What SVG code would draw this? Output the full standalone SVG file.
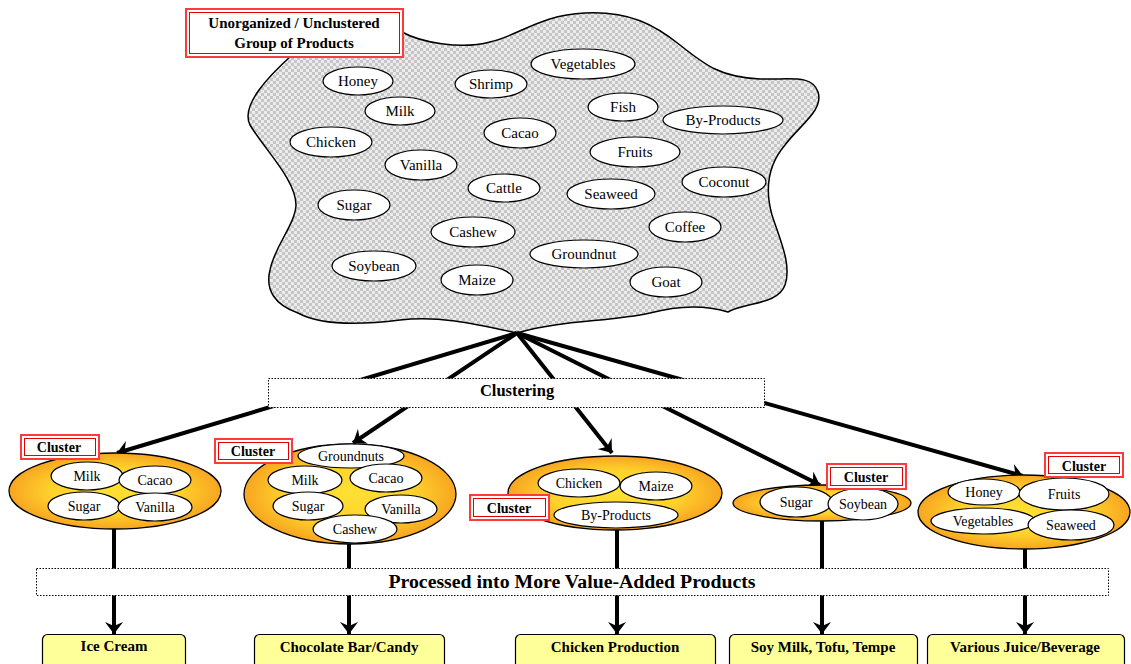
<svg xmlns="http://www.w3.org/2000/svg" width="1131" height="664" viewBox="0 0 1131 664">
  <defs>
    <pattern id="checker" width="6" height="6" patternUnits="userSpaceOnUse">
      <rect width="6" height="6" fill="#ececec"/>
      <rect width="3" height="3" fill="#c6c6c6"/>
      <rect x="3" y="3" width="3" height="3" fill="#c6c6c6"/>
    </pattern>
    <radialGradient id="orange" cx="50%" cy="50%" r="55%">
      <stop offset="0" stop-color="#ffe033"/>
      <stop offset="0.55" stop-color="#ffd22c"/>
      <stop offset="1" stop-color="#f59a1e"/>
    </radialGradient>
    <marker id="head" viewBox="0 0 12 18" refX="12" refY="9" markerWidth="12" markerHeight="18" markerUnits="userSpaceOnUse" orient="auto">
      <path d="M0,0 L12,9 L0,18 L4,9 Z" fill="#000"/>
    </marker>
    <style>
      .item { fill: #fff; stroke: #000; stroke-width: 1.2; }
      .t15 { font-family: "Liberation Serif", serif; font-size: 15px; text-anchor: middle; fill: #000; }
      .t14 { font-family: "Liberation Serif", serif; font-size: 14px; text-anchor: middle; fill: #000; }
      .bold { font-family: "Liberation Serif", serif; font-weight: bold; text-anchor: middle; fill: #000; }
      .clus { fill: url(#orange); stroke: #000; stroke-width: 1.3; }
      .redO { fill: #fff; stroke: #ff3a3a; stroke-width: 2; }
      .redI { fill: none; stroke: #e00000; stroke-width: 1; }
      .dotbox { fill: #fff; stroke: #000; stroke-width: 1; stroke-dasharray: 1.5 1.5; }
      .prod { fill: #ffff99; stroke: #000; stroke-width: 1.2; }
      .link { stroke: #000; stroke-width: 4; fill: none; }
    </style>
  </defs>

  <rect width="1131" height="664" fill="#fff"/>

  <!-- unorganized product pool -->
  <g id="pool">
    <path d="M 402,32 C 420,42 460,50 490,42 C 520,35 540,15 585,13 C 630,11 655,25 680,45 C 705,65 720,77 760,79 C 790,80 812,74 818,92 C 824,110 800,125 785,145 C 768,165 765,190 772,215 C 780,240 792,265 785,285 C 778,305 745,302 728,312 C 705,305 680,305 650,313 C 610,322 560,320 517,333 C 480,325 440,315 400,320 C 360,325 320,325 298,313 C 275,305 265,290 270,270 C 275,245 295,225 296,205 C 296,180 265,150 250,125 C 240,105 270,75 292,55 L 300,40 Z" fill="url(#checker)" stroke="#000" stroke-width="1.5"/>
    <g id="pool-items">
      <ellipse class="item" cx="358" cy="81" rx="35" ry="14"/><text class="t15" x="358" y="86">Honey</text>
      <ellipse class="item" cx="400" cy="111" rx="35" ry="14"/><text class="t15" x="400" y="116">Milk</text>
      <ellipse class="item" cx="331" cy="142" rx="41" ry="15"/><text class="t15" x="331" y="147">Chicken</text>
      <ellipse class="item" cx="421" cy="165" rx="36" ry="15"/><text class="t15" x="421" y="170">Vanilla</text>
      <ellipse class="item" cx="491" cy="84" rx="36" ry="14"/><text class="t15" x="491" y="89">Shrimp</text>
      <ellipse class="item" cx="520" cy="133" rx="36" ry="15"/><text class="t15" x="520" y="138">Cacao</text>
      <ellipse class="item" cx="504" cy="188" rx="36" ry="14"/><text class="t15" x="504" y="193">Cattle</text>
      <ellipse class="item" cx="583" cy="64" rx="52" ry="15"/><text class="t15" x="583" y="69">Vegetables</text>
      <ellipse class="item" cx="623" cy="107" rx="35" ry="14"/><text class="t15" x="623" y="112">Fish</text>
      <ellipse class="item" cx="723" cy="120" rx="60" ry="14"/><text class="t15" x="723" y="125">By-Products</text>
      <ellipse class="item" cx="635" cy="152" rx="45" ry="15"/><text class="t15" x="635" y="157">Fruits</text>
      <ellipse class="item" cx="724" cy="182" rx="42" ry="15"/><text class="t15" x="724" y="187">Coconut</text>
      <ellipse class="item" cx="611" cy="194" rx="44" ry="15"/><text class="t15" x="611" y="199">Seaweed</text>
      <ellipse class="item" cx="685" cy="227" rx="36" ry="15"/><text class="t15" x="685" y="232">Coffee</text>
      <ellipse class="item" cx="584" cy="254" rx="54" ry="14"/><text class="t15" x="584" y="259">Groundnut</text>
      <ellipse class="item" cx="666" cy="282" rx="36" ry="15"/><text class="t15" x="666" y="287">Goat</text>
      <ellipse class="item" cx="354" cy="205" rx="36" ry="15"/><text class="t15" x="354" y="210">Sugar</text>
      <ellipse class="item" cx="473" cy="232" rx="42" ry="15"/><text class="t15" x="473" y="237">Cashew</text>
      <ellipse class="item" cx="374" cy="266" rx="42" ry="15"/><text class="t15" x="374" y="271">Soybean</text>
      <ellipse class="item" cx="477" cy="280" rx="36" ry="15"/><text class="t15" x="477" y="285">Maize</text>
    </g>
  </g>

  <g id="pool-label">
    <rect class="redO" x="186" y="9" width="217" height="48"/>
    <rect class="redI" x="189.5" y="12.5" width="210" height="41"/>
    <text class="bold" x="294" y="28" font-size="15">Unorganized / Unclustered</text>
    <text class="bold" x="294" y="48" font-size="15">Group of Products</text>
  </g>

  <!-- connectors -->
  <g id="connectors">
    <line class="link" x1="517" y1="333" x2="117" y2="453" marker-end="url(#head)"/>
    <line class="link" x1="517" y1="333" x2="353" y2="443" marker-end="url(#head)"/>
    <line class="link" x1="517" y1="333" x2="612" y2="453" marker-end="url(#head)"/>
    <line class="link" x1="517" y1="333" x2="820" y2="485" marker-end="url(#head)"/>
    <line class="link" x1="517" y1="333" x2="1023" y2="476" marker-end="url(#head)"/>
    <line class="link" x1="114" y1="528" x2="114" y2="634" marker-end="url(#head)"/>
    <line class="link" x1="349" y1="543" x2="349" y2="634" marker-end="url(#head)"/>
    <line class="link" x1="617" y1="529" x2="617" y2="634" marker-end="url(#head)"/>
    <line class="link" x1="822" y1="521" x2="822" y2="634" marker-end="url(#head)"/>
    <line class="link" x1="1025" y1="548" x2="1025" y2="634" marker-end="url(#head)"/>
  </g>

  <g id="clustering">
    <rect class="dotbox" x="268.5" y="378.5" width="496" height="29"/>
    <text class="bold" x="517" y="396" font-size="16.5">Clustering</text>
  </g>

  <!-- cluster 1 -->
  <g id="cluster1">
    <ellipse class="clus" cx="115" cy="491" rx="106" ry="38"/>
    <ellipse class="item" cx="87" cy="476" rx="36" ry="14"/><text class="t14" x="87" y="481">Milk</text>
    <ellipse class="item" cx="155" cy="480" rx="36" ry="14"/><text class="t14" x="155" y="485">Cacao</text>
    <ellipse class="item" cx="84" cy="506" rx="36" ry="14"/><text class="t14" x="84" y="511">Sugar</text>
    <ellipse class="item" cx="155" cy="507" rx="37" ry="14"/><text class="t14" x="155" y="512">Vanilla</text>
    <rect class="redO" x="21" y="435" width="78" height="24"/>
    <rect class="redI" x="24.5" y="438.5" width="71" height="17"/>
    <text class="bold" x="59" y="452" font-size="14">Cluster</text>
  </g>

  <!-- cluster 2 -->
  <g id="cluster2">
    <ellipse class="clus" cx="350" cy="494" rx="106" ry="50"/>
    <ellipse class="item" cx="351" cy="456" rx="53" ry="12"/><text class="t14" x="351" y="461">Groundnuts</text>
    <ellipse class="item" cx="305" cy="480" rx="37" ry="14"/><text class="t14" x="305" y="485">Milk</text>
    <ellipse class="item" cx="386" cy="478" rx="36" ry="14"/><text class="t14" x="386" y="483">Cacao</text>
    <ellipse class="item" cx="308" cy="506" rx="35" ry="14"/><text class="t14" x="308" y="511">Sugar</text>
    <ellipse class="item" cx="401" cy="509" rx="36" ry="14"/><text class="t14" x="401" y="514">Vanilla</text>
    <ellipse class="item" cx="355" cy="529" rx="42" ry="14"/><text class="t14" x="355" y="534">Cashew</text>
    <rect class="redO" x="215" y="439" width="77" height="24"/>
    <rect class="redI" x="218.5" y="442.5" width="70" height="17"/>
    <text class="bold" x="253" y="456" font-size="14">Cluster</text>
  </g>

  <!-- cluster 3 -->
  <g id="cluster3">
    <ellipse class="clus" cx="615" cy="493" rx="107" ry="37"/>
    <ellipse class="item" cx="579" cy="483" rx="41" ry="14"/><text class="t14" x="579" y="488">Chicken</text>
    <ellipse class="item" cx="656" cy="486" rx="36" ry="14"/><text class="t14" x="656" y="491">Maize</text>
    <ellipse class="item" cx="616" cy="515" rx="62" ry="13"/><text class="t14" x="616" y="520">By-Products</text>
    <rect class="redO" x="470" y="495" width="79" height="25"/>
    <rect class="redI" x="473.5" y="498.5" width="72" height="18"/>
    <text class="bold" x="509" y="513" font-size="14">Cluster</text>
  </g>

  <!-- cluster 4 -->
  <g id="cluster4">
    <ellipse class="clus" cx="822" cy="503" rx="89" ry="18"/>
    <ellipse class="item" cx="796" cy="502" rx="36" ry="15"/><text class="t14" x="796" y="507">Sugar</text>
    <ellipse class="item" cx="863" cy="504" rx="35" ry="16"/><text class="t14" x="863" y="509">Soybean</text>
    <rect class="redO" x="827" y="464" width="79" height="25"/>
    <rect class="redI" x="830.5" y="467.5" width="72" height="18"/>
    <text class="bold" x="866" y="482" font-size="14">Cluster</text>
  </g>

  <!-- cluster 5 -->
  <g id="cluster5">
    <ellipse class="clus" cx="1024" cy="512" rx="106" ry="37"/>
    <ellipse class="item" cx="984" cy="492" rx="36" ry="13"/><text class="t14" x="984" y="497">Honey</text>
    <ellipse class="item" cx="1064" cy="494" rx="45" ry="16"/><text class="t14" x="1064" y="499">Fruits</text>
    <ellipse class="item" cx="983" cy="521" rx="52" ry="13"/><text class="t14" x="983" y="526">Vegetables</text>
    <ellipse class="item" cx="1071" cy="525" rx="43" ry="15"/><text class="t14" x="1071" y="530">Seaweed</text>
    <rect class="redO" x="1045" y="453" width="78" height="24"/>
    <rect class="redI" x="1048.5" y="456.5" width="71" height="17"/>
    <text class="bold" x="1084" y="471" font-size="14">Cluster</text>
  </g>

  <g id="processing">
    <rect class="dotbox" x="36.5" y="568.5" width="1072" height="27"/>
    <text class="bold" x="572" y="588" font-size="19.8">Processed into More Value-Added Products</text>
  </g>

  <!-- end products -->
  <g id="prod-icecream">
    <rect class="prod" x="42.5" y="634.5" width="143" height="40" rx="5"/>
    <text class="bold" x="114" y="651" font-size="15">Ice Cream</text>
  </g>
  <g id="prod-chocolate">
    <rect class="prod" x="254.5" y="634.5" width="190" height="40" rx="5"/>
    <text class="bold" x="349" y="652" font-size="15">Chocolate Bar/Candy</text>
  </g>
  <g id="prod-chicken">
    <rect class="prod" x="515.5" y="634.5" width="200" height="40" rx="5"/>
    <text class="bold" x="615" y="652" font-size="15">Chicken Production</text>
  </g>
  <g id="prod-soy">
    <rect class="prod" x="729.5" y="634.5" width="188" height="40" rx="5"/>
    <text class="bold" x="823" y="652" font-size="15">Soy Milk, Tofu, Tempe</text>
  </g>
  <g id="prod-juice">
    <rect class="prod" x="927.5" y="634.5" width="197" height="40" rx="5"/>
    <text class="bold" x="1025" y="652" font-size="15">Various Juice/Beverage</text>
  </g>
</svg>
